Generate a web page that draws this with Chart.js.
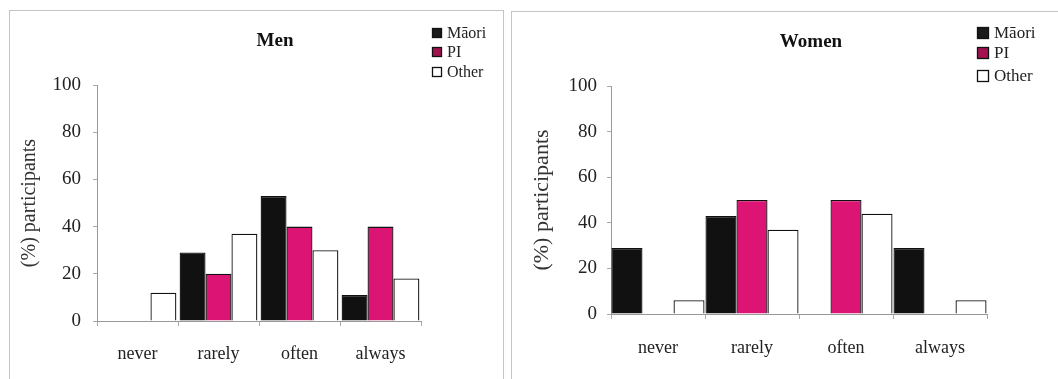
<!DOCTYPE html>
<html lang="en">
<head>
    <meta charset="UTF-8">
    <title>Men / Women</title>
    <style>
        body { margin: 0; background: #fff; width: 1058px; height: 379px; overflow: hidden; position: relative; }
        .panel { position: absolute; border: 1px solid #c4c4c4; box-sizing: border-box; }
        .box { position: absolute; left: 0; top: 0; }
    </style>
</head>
<body>
    <div class="panel" style="left:9px; top:10px; width:495px; height:400px;">
        <div class="box" style="width:492px; height:368px;"><canvas id="menChart"></canvas></div>
    </div>
    <div class="panel" style="left:511px; top:11px; width:600px; height:400px;">
        <div class="box" style="width:546px; height:367px;"><canvas id="womenChart"></canvas></div>
    </div>

    <script src="https://cdn.jsdelivr.net/npm/chart.js"></script>
    <script>
        const categories = ['never', 'rarely', 'often', 'always'];
        const groups = ['Māori', 'PI', 'Other'];
        const yTicks = [0, 20, 40, 60, 80, 100];

        // Men
        const menMaori = [0, 29, 53, 11];
        const menPI = [0, 20, 40, 40];
        const menOther = [12, 37, 30, 18];

        // Women
        const womenMaori = [29, 43, 0, 29];
        const womenPI = [0, 50, 50, 0];
        const womenOther = [6, 37, 44, 6];

        const fills = ['#111111', '#dc1474', '#ffffff'];
        const legendFills = ['#1a1a1a', '#a3124f', '#ffffff'];
        const serif = '"Liberation Serif", "Times New Roman", serif';

        // draws title text and the little legend at the top right
        const headerPlugin = {
            id: 'header',
            afterDraw(chart, args, opts) {
                const ctx = chart.ctx;
                ctx.save();
                ctx.fillStyle = '#111';
                ctx.font = 'bold ' + opts.titleSize + 'px ' + serif;
                ctx.textAlign = 'center';
                ctx.textBaseline = 'middle';
                ctx.fillText(opts.title, opts.titleX, opts.titleY);

                ctx.font = opts.legendSize + 'px ' + serif;
                ctx.textAlign = 'left';
                chart.data.datasets.forEach((ds, i) => {
                    const y = opts.legendY[i];
                    ctx.fillStyle = legendFills[i];
                    ctx.fillRect(opts.legendX, y - opts.box / 2, opts.box, opts.box);
                    ctx.strokeStyle = '#111';
                    ctx.lineWidth = 1.3;
                    ctx.strokeRect(opts.legendX + 0.5, y - opts.box / 2 + 0.5, opts.box - 1, opts.box - 1);
                    ctx.fillStyle = '#222';
                    ctx.fillText(ds.label, opts.legendX + opts.box + 5, y + 1);
                });
                ctx.restore();
            }
        };

        function makeChart(id, maori, pi, other, cfg) {
            const series = [maori, pi, other];
            new Chart(document.getElementById(id), {
                type: 'bar',
                data: {
                    labels: categories,
                    datasets: groups.map((g, i) => ({
                        label: g,
                        data: series[i],
                        backgroundColor: fills[i],
                        borderColor: '#111',
                        borderWidth: 1.3,
                        categoryPercentage: cfg.catPct,
                        barPercentage: 1.0
                    }))
                },
                options: {
                    responsive: true,
                    maintainAspectRatio: false,
                    animation: false,
                    layout: { padding: { left: 0, top: cfg.top, right: cfg.right, bottom: 0 } },
                    plugins: {
                        legend: { display: false },
                        title: { display: false },
                        tooltip: { enabled: false },
                        header: cfg.header
                    },
                    scales: {
                        x: {
                            grid: { display: true, drawOnChartArea: false, offset: true, color: '#aaa', tickLength: 5 },
                            border: { color: '#999' },
                            ticks: { color: '#222', padding: cfg.xPad, font: { family: serif, size: 18 } },
                            afterFit: s => { s.height = cfg.xHeight; }
                        },
                        y: {
                            min: 0,
                            max: 100,
                            afterBuildTicks: s => { s.ticks = yTicks.map(v => ({ value: v })); },
                            grid: { display: true, drawOnChartArea: false, color: '#aaa', tickLength: 4 },
                            border: { color: '#999' },
                            ticks: { color: '#222', padding: cfg.yPad, font: { family: serif, size: 19 } },
                            title: {
                                display: true,
                                text: '(%) participants',
                                color: '#333',
                                font: { family: serif, size: cfg.yTitleSize },
                                padding: { top: cfg.titlePad, bottom: 0 }
                            },
                            afterFit: s => { s.width = cfg.yWidth; }
                        }
                    }
                },
                plugins: [headerPlugin]
            });
        }

        makeChart('menChart', menMaori, menPI, menOther, {
            catPct: 0.96, top: 74, right: 81, xHeight: 58, xPad: 17, yPad: 12, yWidth: 87,
            titlePad: 8, yTitleSize: 20,
            header: { title: 'Men', titleX: 265, titleY: 30, titleSize: 19,
                      legendX: 422, legendY: [22, 41, 61], legendSize: 16, box: 10 }
        });

        makeChart('womenChart', womenMaori, womenPI, womenOther, {
            catPct: 0.99, top: 74, right: 71, xHeight: 65, xPad: 18, yPad: 10, yWidth: 99,
            titlePad: 17, yTitleSize: 22,
            header: { title: 'Women', titleX: 299, titleY: 30, titleSize: 19,
                      legendX: 465, legendY: [21, 41, 64], legendSize: 17, box: 12 }
        });
    </script>
</body>
</html>
